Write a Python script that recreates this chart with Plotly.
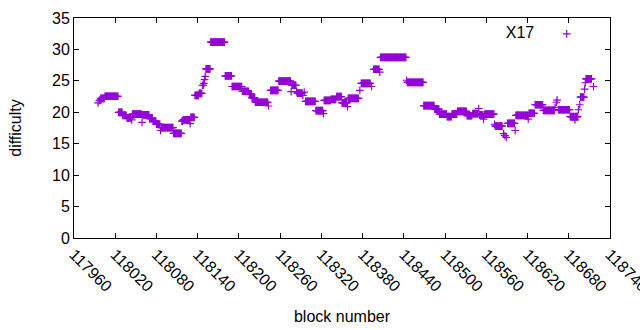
import numpy as np
import plotly.graph_objects as go

# Runs of constant difficulty: start block, end block, value
run_start = [117995, 117997, 117999, 118005, 118025, 118031, 118037, 118044, 118045, 118059,
             118060, 118070, 118075, 118080, 118086, 118087, 118105, 118117, 118119, 118129,
             118130, 118136, 118142, 118147, 118149, 118150, 118151, 118152, 118159, 118180,
             118190, 118205, 118215, 118219, 118224, 118243, 118246, 118258, 118276, 118277,
             118284, 118285, 118293, 118295, 118297, 118312, 118323, 118324, 118334, 118342,
             118350, 118358, 118359, 118376, 118378, 118393, 118396, 118405, 118406, 118444,
             118445, 118469, 118485, 118492, 118503, 118510, 118518, 118532, 118540, 118549,
             118550, 118556, 118557, 118558, 118572, 118573, 118585, 118587, 118589, 118591,
             118602, 118603, 118621, 118622, 118631, 118643, 118660, 118662, 118663, 118665,
             118682, 118689, 118690, 118694, 118696, 118697, 118703, 118704, 118705, 118716]
run_end = [117995, 117998, 118004, 118024, 118030, 118036, 118043, 118044, 118058, 118059,
           118069, 118074, 118079, 118085, 118086, 118104, 118116, 118118, 118128, 118129,
           118135, 118141, 118146, 118148, 118149, 118150, 118151, 118158, 118179, 118189,
           118204, 118214, 118218, 118223, 118242, 118243, 118257, 118275, 118276, 118283,
           118284, 118292, 118293, 118295, 118311, 118322, 118323, 118333, 118341, 118349,
           118357, 118358, 118374, 118376, 118391, 118393, 118404, 118405, 118443, 118444,
           118468, 118484, 118491, 118502, 118509, 118517, 118531, 118539, 118548, 118549,
           118555, 118556, 118557, 118571, 118572, 118583, 118585, 118587, 118589, 118601,
           118602, 118620, 118621, 118630, 118642, 118659, 118660, 118662, 118663, 118681,
           118688, 118689, 118693, 118694, 118696, 118702, 118703, 118704, 118713, 118716]
run_value = [21.5, 21.9, 22.2, 22.55, 20.0, 19.5, 19.1, 18.8, 19.7, 18.4,
             19.6, 19.0, 18.6, 18.1, 17.1, 17.55, 16.65, 18.6, 18.8, 18.2,
             19.2, 22.7, 23.0, 24.3, 24.6, 25.2, 25.7, 26.9, 31.15, 25.8,
             24.1, 23.35, 22.9, 22.3, 21.6, 21.0, 23.5, 24.95, 23.3, 24.3,
             23.3, 23.05, 22.7, 23.2, 21.75, 20.25, 19.8, 21.9, 22.05, 22.5,
             21.5, 20.9, 22.2, 23.5, 24.6, 24.1, 26.85, 26.4, 28.75, 25.1,
             24.75, 21.05, 20.5, 19.7, 19.3, 19.7, 20.15, 19.45, 19.8, 20.6,
             19.6, 18.9, 19.6, 19.7, 18.1, 17.8, 16.6, 16.3, 16.0, 18.25,
             17.1, 19.5, 18.9, 19.85, 21.2, 20.3, 20.8, 21.6, 21.95, 20.4,
             19.3, 18.8, 19.3, 20.4, 21.2, 22.4, 23.7, 24.7, 25.3, 24.1]

x_ticks = list(range(117960, 118741, 60))
y_ticks = list(range(0, 36, 5))

blocks = np.concatenate([np.arange(s, e + 1) for s, e in zip(run_start, run_end)])
diffs = np.concatenate([np.full(e - s + 1, v) for s, e, v in zip(run_start, run_end, run_value)])

color = "#9400D3"
font = "Liberation Sans, Arial, sans-serif"

fig = go.Figure()
fig.add_trace(go.Scatter(
    x=blocks, y=diffs, mode="markers", name="",
    marker=dict(symbol="cross-thin", size=5.5, line=dict(color=color, width=1.2), color=color),
    showlegend=True,
))

axis_common = dict(
    showline=True, linecolor="black", linewidth=1, mirror="ticks",
    ticks="inside", ticklen=5, tickcolor="black", tickwidth=1,
    showgrid=False, zeroline=False, automargin=False,
    tickfont=dict(family=font, size=16, color="black"),
)

fig.update_layout(
    width=640, height=330,
    margin=dict(l=74, r=30, t=18, b=92),
    paper_bgcolor="white", plot_bgcolor="white",
    font=dict(family=font, size=16, color="black"),
    xaxis=dict(range=[117960, 118740], tickvals=x_ticks, ticktext=[str(v) for v in x_ticks],
               tickangle=45, ticklabeloverflow="allow",
               title=dict(text="block number", font=dict(size=16), standoff=16),
               **axis_common),
    yaxis=dict(range=[0, 35], tickvals=y_ticks, ticktext=[str(v) for v in y_ticks],
               title=dict(text="difficulty", font=dict(size=16), standoff=26),
               **axis_common),
    legend=dict(x=0.966, y=1.005, xanchor="right", yanchor="top",
                bgcolor="rgba(0,0,0,0)", borderwidth=0,
                title=dict(text="X17\u00a0", side="left", font=dict(size=16)),
                font=dict(size=16)),
)

# remove the browser's default 8px page margin so the figure sits at the top-left corner
fig.write_html("out.html", config={"displayModeBar": False},
               post_script="document.body.style.margin='0';")
